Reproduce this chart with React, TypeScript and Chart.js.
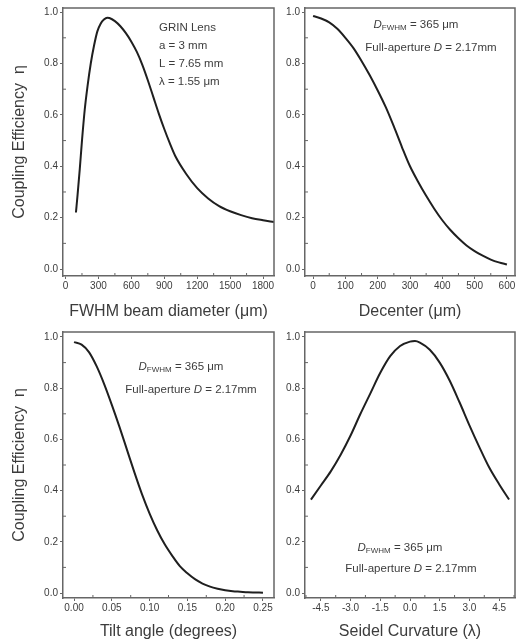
import React, { useEffect, useRef } from "react";
import { Chart, registerables } from "chart.js";

Chart.register(...registerables);

// ---------- data ----------
const beamDiameter = [95, 110, 130, 150, 175, 200, 230, 260, 290, 320, 350, 380, 400, 450, 500, 550, 600, 650, 700, 750, 800, 850, 900, 950, 1000, 1100, 1200, 1300, 1400, 1500, 1600, 1700, 1800, 1900];
const beamEta = [0.22, 0.29, 0.39, 0.5, 0.62, 0.71, 0.8, 0.87, 0.925, 0.955, 0.971, 0.978, 0.977, 0.965, 0.945, 0.918, 0.885, 0.845, 0.795, 0.735, 0.67, 0.605, 0.545, 0.49, 0.44, 0.37, 0.315, 0.275, 0.245, 0.225, 0.21, 0.198, 0.19, 0.183];

const decenter = [0, 25, 50, 75, 100, 125, 150, 175, 200, 225, 250, 275, 300, 325, 350, 375, 400, 425, 450, 475, 500, 525, 550, 575, 600];
const decenterEta = [0.985, 0.975, 0.96, 0.935, 0.9, 0.86, 0.81, 0.755, 0.695, 0.63, 0.555, 0.475, 0.4, 0.34, 0.285, 0.235, 0.19, 0.152, 0.12, 0.092, 0.07, 0.052, 0.037, 0.026, 0.018];

const tiltAngle = [0, 0.01, 0.02, 0.03, 0.04, 0.05, 0.06, 0.07, 0.08, 0.09, 0.1, 0.11, 0.12, 0.13, 0.14, 0.15, 0.16, 0.17, 0.18, 0.19, 0.2, 0.21, 0.22, 0.23, 0.24, 0.25];
const tiltEta = [0.98, 0.97, 0.94, 0.885, 0.815, 0.735, 0.65, 0.56, 0.47, 0.385, 0.31, 0.245, 0.19, 0.145, 0.105, 0.077, 0.054, 0.037, 0.025, 0.017, 0.011, 0.007, 0.005, 0.003, 0.002, 0.001];

const seidelCurvature = [-5, -4.5, -4, -3.5, -3, -2.5, -2, -1.5, -1, -0.5, 0, 0.25, 0.5, 1, 1.5, 2, 2.5, 3, 3.5, 4, 4.5, 5];
const seidelEta = [0.365, 0.42, 0.475, 0.54, 0.615, 0.7, 0.78, 0.86, 0.925, 0.965, 0.982, 0.984, 0.978, 0.95, 0.9, 0.83, 0.745, 0.655, 0.57, 0.49, 0.425, 0.365];

const etaTicks = [0, 0.2, 0.4, 0.6, 0.8, 1.0];
const beamTicks = [0, 300, 600, 900, 1200, 1500, 1800];
const decenterTicks = [0, 100, 200, 300, 400, 500, 600];
const tiltTicks = [0, 0.05, 0.1, 0.15, 0.2, 0.25];
const seidelTicks = [-4.5, -3.0, -1.5, 0, 1.5, 3.0, 4.5];

const yTitle = "Coupling Efficiency  η";
const beamTitle = "FWHM beam diameter (μm)";
const decenterTitle = "Decenter (μm)";
const tiltTitle = "Tilt angle (degrees)";
const seidelTitle = "Seidel Curvature (λ)";

type Seg = { t: string; italic?: boolean; sub?: boolean };
const grinLines: Seg[][] = [
  [{ t: "GRIN Lens" }],
  [{ t: "a = 3 mm" }],
  [{ t: "L = 7.65 mm" }],
  [{ t: "λ = 1.55 μm" }],
];
const fwhmLine: Seg[] = [{ t: "D", italic: true }, { t: "FWHM", sub: true }, { t: " = 365 μm" }];
const apertureLine: Seg[] = [{ t: "Full-aperture " }, { t: "D", italic: true }, { t: " = 2.17mm" }];

// ---------- style ----------
const FONT = "'Liberation Sans', Arial, sans-serif";
const AXIS = "#666666";
const TEXT = "#3c3c3c";
const CURVE = "#1f1f1f";

type Note = { x: number; y: number; align: "left" | "center"; segs: Seg[] };

const decoPlugin = {
  id: "deco",
  afterDraw(chart: any, _a: any, opts: any) {
    const { ctx, chartArea: a, scales } = chart;
    ctx.save();
    ctx.strokeStyle = AXIS;
    ctx.lineWidth = 1.5;
    ctx.beginPath();
    ctx.moveTo(a.left, a.top);
    ctx.lineTo(a.right, a.top);
    ctx.lineTo(a.right, a.bottom);
    ctx.stroke();
    // minor ticks (inward)
    ctx.lineWidth = 1;
    const xs = scales.x, ys = scales.y;
    const xv = xs.ticks.map((t: any) => t.value);
    const xm: number[] = [];
    for (let i = 0; i < xv.length - 1; i++) xm.push((xv[i] + xv[i + 1]) / 2);
    if (xv.length > 1) {
      const s = xv[1] - xv[0];
      xm.push(xv[xv.length - 1] + s / 2);
      xm.push(xv[0] - s / 2);
    }
    ctx.beginPath();
    xm.forEach((v) => {
      if (v < xs.min || v > xs.max) return;
      const p = xs.getPixelForValue(v);
      ctx.moveTo(p, a.bottom);
      ctx.lineTo(p, a.bottom - 3);
    });
    const yv = ys.ticks.map((t: any) => t.value);
    for (let i = 0; i < yv.length - 1; i++) {
      const p = ys.getPixelForValue((yv[i] + yv[i + 1]) / 2);
      ctx.moveTo(a.left, p);
      ctx.lineTo(a.left + 3, p);
    }
    ctx.stroke();
    // notes
    ctx.fillStyle = TEXT;
    ctx.textBaseline = "middle";
    ctx.textAlign = "left";
    const size = 11.5;
    const fontFor = (s: Seg) =>
      `${s.italic ? "italic " : ""}${s.sub ? 8 : size}px ${FONT}`;
    (opts.notes || []).forEach((n: Note) => {
      let w = 0;
      n.segs.forEach((s) => {
        ctx.font = fontFor(s);
        w += ctx.measureText(s.t).width;
      });
      let x = n.align === "center" ? n.x - w / 2 : n.x;
      n.segs.forEach((s) => {
        ctx.font = fontFor(s);
        ctx.fillText(s.t, x, n.y + (s.sub ? 3 : 0));
        x += ctx.measureText(s.t).width;
      });
    });
    ctx.restore();
  },
};

type PanelProps = {
  left: number;
  top: number;
  width: number;
  height: number;
  yAxisWidth: number;
  xAxisHeight: number;
  padTop: number;
  padRight: number;
  xs: number[];
  ys: number[];
  xMin: number;
  xMax: number;
  yMin: number;
  yMax: number;
  xTicks: number[];
  xDecimals: number;
  xTitle: string;
  yTitleText?: string;
  yTitlePad?: number;
  notes: Note[];
};

function Panel(p: PanelProps) {
  const ref = useRef<HTMLCanvasElement>(null);
  useEffect(() => {
    if (!ref.current) return;
    const chart = new Chart(ref.current, {
      type: "line",
      data: {
        datasets: [
          {
            data: p.xs.map((x, i) => ({ x, y: p.ys[i] })),
            borderColor: CURVE,
            borderWidth: 2,
            pointRadius: 0,
            fill: false,
            cubicInterpolationMode: "monotone",
          },
        ],
      },
      options: {
        animation: false,
        responsive: false,
        maintainAspectRatio: false,
        layout: { padding: { left: 0, top: p.padTop, right: p.padRight, bottom: 0 } },
        plugins: {
          legend: { display: false },
          tooltip: { enabled: false },
          deco: { notes: p.notes },
        } as any,
        scales: {
          x: {
            type: "linear",
            min: p.xMin,
            max: p.xMax,
            afterBuildTicks: (s: any) => {
              s.ticks = p.xTicks.map((v) => ({ value: v }));
            },
            afterFit: (s: any) => {
              s.height = p.xAxisHeight;
            },
            ticks: {
              autoSkip: false,
              maxRotation: 0,
              padding: 1,
              color: TEXT,
              font: { size: 10, family: FONT },
              callback: (v: any) => Number(v).toFixed(p.xDecimals),
            },
            grid: { drawOnChartArea: false, drawTicks: true, tickLength: 3, tickColor: AXIS, color: AXIS },
            border: { color: AXIS, width: 1.5 },
            title: {
              display: true,
              text: p.xTitle,
              color: TEXT,
              font: { size: 16, family: FONT },
              padding: { top: 0, bottom: 1 },
            },
          },
          y: {
            type: "linear",
            min: p.yMin,
            max: p.yMax,
            afterBuildTicks: (s: any) => {
              s.ticks = etaTicks.map((v) => ({ value: v }));
            },
            afterFit: (s: any) => {
              s.width = p.yAxisWidth;
            },
            ticks: {
              padding: 2,
              color: TEXT,
              font: { size: 10, family: FONT },
              callback: (v: any) => Number(v).toFixed(1),
            },
            grid: { drawOnChartArea: false, drawTicks: true, tickLength: 3, tickColor: AXIS, color: AXIS },
            border: { color: AXIS, width: 1.5 },
            title: {
              display: !!p.yTitleText,
              text: p.yTitleText || "",
              color: TEXT,
              font: { size: 16, family: FONT },
              padding: { top: 10, bottom: 0 },
            },
          },
        },
      } as any,
      plugins: [decoPlugin as any],
    });
    return () => chart.destroy();
  }, []);
  return (
    <canvas
      ref={ref}
      width={p.width}
      height={p.height}
      style={{ position: "absolute", left: p.left, top: p.top, width: p.width, height: p.height }}
    />
  );
}

export default function App() {
  return (
    <div style={{ position: "absolute", left: 0, top: 0, width: 521, height: 642, background: "#fff", overflow: "hidden" }}>
      <Panel
        left={0} top={0} width={282} height={322}
        yAxisWidth={63} xAxisHeight={46} padTop={8} padRight={8}
        xs={beamDiameter} ys={beamEta}
        xMin={-23} xMax={1900} yMin={-0.027} yMax={1.016}
        xTicks={beamTicks} xDecimals={0} xTitle={beamTitle} yTitleText={yTitle}
        notes={grinLines.map((segs, i) => ({ x: 159, y: 28 + i * 18, align: "left" as const, segs }))}
      />
      <Panel
        left={282} top={0} width={239} height={322}
        yAxisWidth={23} xAxisHeight={46} padTop={8} padRight={6}
        xs={decenter} ys={decenterEta}
        xMin={-25} xMax={625} yMin={-0.027} yMax={1.016}
        xTicks={decenterTicks} xDecimals={0} xTitle={decenterTitle}
        notes={[
          { x: 134, y: 25, align: "center", segs: fwhmLine },
          { x: 149, y: 48, align: "center", segs: apertureLine },
        ]}
      />
      <Panel
        left={0} top={322} width={282} height={320}
        yAxisWidth={63} xAxisHeight={44} padTop={10} padRight={8}
        xs={tiltAngle} ys={tiltEta}
        xMin={-0.0146} xMax={0.2646} yMin={-0.0195} yMax={1.0195}
        xTicks={tiltTicks} xDecimals={2} xTitle={tiltTitle} yTitleText={yTitle}
        notes={[
          { x: 181, y: 45, align: "center", segs: fwhmLine },
          { x: 191, y: 68, align: "center", segs: apertureLine },
        ]}
      />
      <Panel
        left={282} top={322} width={239} height={320}
        yAxisWidth={23} xAxisHeight={44} padTop={10} padRight={6}
        xs={seidelCurvature} ys={seidelEta}
        xMin={-5.3} xMax={5.3} yMin={-0.0195} yMax={1.0195}
        xTicks={seidelTicks} xDecimals={1} xTitle={seidelTitle}
        notes={[
          { x: 118, y: 226, align: "center", segs: fwhmLine },
          { x: 129, y: 247, align: "center", segs: apertureLine },
        ]}
      />
    </div>
  );
}
